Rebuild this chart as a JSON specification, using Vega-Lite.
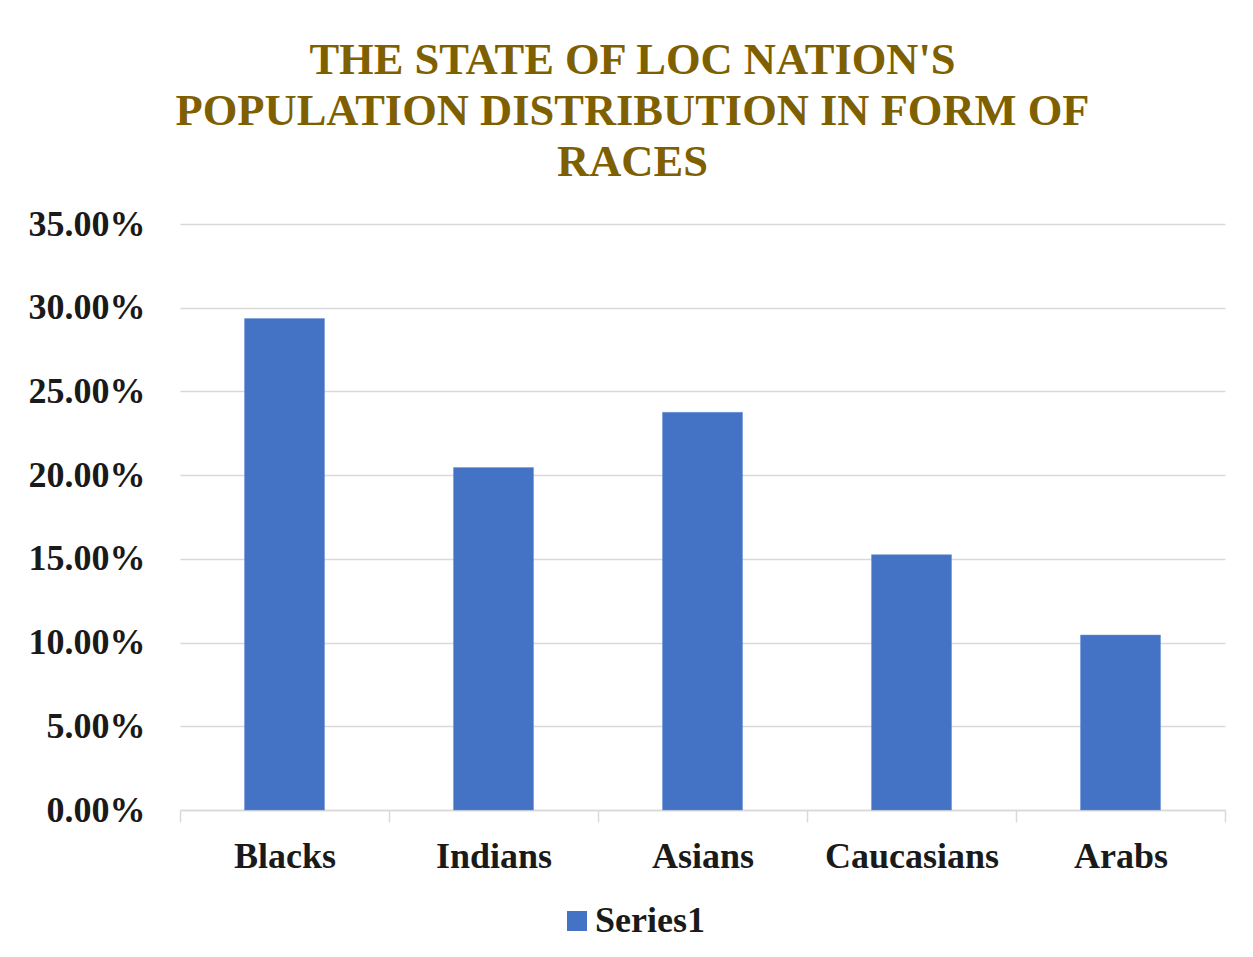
{
  "$schema": "https://vega.github.io/schema/vega-lite/v6.json",
  "autosize": {"type": "none"},
  "padding": {"left": 180, "top": 224, "right": 28, "bottom": 147},
  "width": 1045,
  "height": 586,
  "background": "#ffffff",
  "title": {
    "text": ["THE STATE OF LOC NATION'S", "POPULATION DISTRIBUTION IN FORM OF", "RACES"],
    "font": "Liberation Serif",
    "fontSize": 44.5,
    "fontWeight": "bold",
    "color": "#7F6000",
    "lineHeight": 51,
    "anchor": "middle",
    "frame": "group",
    "dx": -70,
    "offset": 21
  },
  "data": {
    "values": [
      {"race": "Blacks", "share": 0.2935, "series": "Series1"},
      {"race": "Indians", "share": 0.2045, "series": "Series1"},
      {"race": "Asians", "share": 0.2375, "series": "Series1"},
      {"race": "Caucasians", "share": 0.1525, "series": "Series1"},
      {"race": "Arabs", "share": 0.1045, "series": "Series1"}
    ]
  },
  "mark": {"type": "bar", "width": {"band": 0.383}, "stroke": "#6d92d6", "strokeWidth": 0.5},
  "encoding": {
    "x": {
      "field": "race",
      "type": "nominal",
      "sort": null,
      "scale": {"paddingInner": 0, "paddingOuter": 0},
      "axis": {
        "title": null,
        "labelAngle": 0,
        "labelFont": "Liberation Serif",
        "labelFontSize": 36,
        "labelFontWeight": "bold",
        "labelColor": "#1a1a1a",
        "labelPadding": 17,
        "tickBand": "extent",
        "tickSize": 12,
        "tickColor": "#d9d9d9",
        "tickWidth": 1.5,
        "domainColor": "#d9d9d9",
        "domainWidth": 1.5,
        "grid": false
      }
    },
    "y": {
      "field": "share",
      "type": "quantitative",
      "scale": {"domain": [0, 0.35]},
      "axis": {
        "title": null,
        "format": ".2%",
        "values": [0, 0.05, 0.1, 0.15, 0.2, 0.25, 0.3, 0.35],
        "labelFont": "Liberation Serif",
        "labelFontSize": 36,
        "labelFontWeight": "bold",
        "labelColor": "#1a1a1a",
        "labelPadding": 35,
        "ticks": false,
        "tickSize": 0,
        "domain": false,
        "grid": true,
        "gridColor": "#d9d9d9",
        "gridWidth": 1.5
      }
    },
    "color": {
      "field": "series",
      "type": "nominal",
      "scale": {"range": ["#4472C4"]},
      "legend": {
        "title": null,
        "orient": "none",
        "legendX": 379,
        "legendY": 679,
        "direction": "horizontal",
        "symbolType": "square",
        "symbolSize": 400,
        "symbolStrokeWidth": 0,
        "labelFont": "Liberation Serif",
        "labelFontSize": 36,
        "labelFontWeight": "bold",
        "labelColor": "#1a1a1a",
        "labelOffset": 0
      }
    }
  },
  "config": {
    "view": {"stroke": null}
  }
}
